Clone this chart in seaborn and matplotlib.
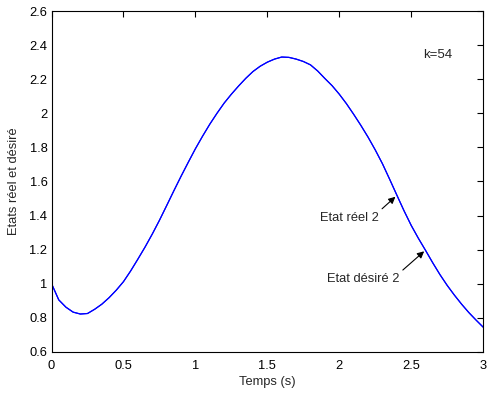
import matplotlib
matplotlib.use("Agg")
import matplotlib.pyplot as plt
import seaborn as sns
import pandas as pd

temps = [0.00, 0.05, 0.10, 0.15, 0.20, 0.25, 0.30, 0.35, 0.40, 0.45, 0.50,
         0.55, 0.60, 0.65, 0.70, 0.75, 0.80, 0.85, 0.90, 0.95, 1.00,
         1.05, 1.10, 1.15, 1.20, 1.25, 1.30, 1.35, 1.40, 1.45, 1.50,
         1.55, 1.60, 1.65, 1.70, 1.75, 1.80, 1.85, 1.90, 1.95, 2.00,
         2.05, 2.10, 2.15, 2.20, 2.25, 2.30, 2.35, 2.40, 2.45, 2.50,
         2.55, 2.60, 2.65, 2.70, 2.75, 2.80, 2.85, 2.90, 2.95, 3.00]
etat_reel = [1.000, 0.905, 0.862, 0.833, 0.822, 0.825, 0.850, 0.880, 0.918, 0.962, 1.012,
             1.075, 1.144, 1.215, 1.291, 1.372, 1.458, 1.545, 1.630, 1.712, 1.792,
             1.866, 1.936, 2.000, 2.060, 2.112, 2.160, 2.205, 2.245, 2.276, 2.300,
             2.318, 2.330, 2.328, 2.318, 2.304, 2.284, 2.248, 2.204, 2.162, 2.112,
             2.056, 1.994, 1.929, 1.860, 1.785, 1.704, 1.613, 1.520, 1.428, 1.342,
             1.266, 1.195, 1.122, 1.053, 0.990, 0.933, 0.880, 0.831, 0.787, 0.745]
etat_desire = list(etat_reel)

xticks = [0, 0.5, 1, 1.5, 2, 2.5, 3]
yticks = [0.6, 0.8, 1, 1.2, 1.4, 1.6, 1.8, 2, 2.2, 2.4, 2.6]

sns.set_style("white")
plt.rcParams['font.family'] = ['Liberation Sans', 'DejaVu Sans']

df = pd.DataFrame({"t": temps, "reel": etat_reel, "desire": etat_desire})

fig = plt.figure(figsize=(4.91, 3.94), dpi=100)
ax = fig.add_axes([0.105, 0.107, 0.879, 0.865])

sns.lineplot(data=df, x="t", y="desire", ax=ax, color=(0, 0, 1), linewidth=0.85)
sns.lineplot(data=df, x="t", y="reel", ax=ax, color=(0, 0, 1), linewidth=0.85)

ax.set_xlim(0, 3)
ax.set_ylim(0.6, 2.6)
ax.set_xticks(xticks)
ax.set_xticklabels(["0", "0.5", "1", "1.5", "2", "2.5", "3"])
ax.set_yticks(yticks)
ax.set_yticklabels(["0.6", "0.8", "1", "1.2", "1.4", "1.6", "1.8", "2", "2.2", "2.4", "2.6"])
ax.tick_params(direction="in", length=4, width=0.8, top=True, right=True,
               labelsize=9.3, colors="black")
ax.tick_params(axis="x", pad=6)
ax.tick_params(axis="y", pad=3)
for s in ax.spines.values():
    s.set_color("black")
    s.set_linewidth(0.8)

ax.set_xlabel("Temps (s)", fontsize=9.3, labelpad=3)
ax.set_ylabel("Etats réel et désiré", fontsize=9.3, labelpad=7)

ax.text(2.58, 2.34, "k=54", fontsize=9.5, va="center", ha="left")
ax.annotate("Etat réel 2", xy=(2.39, 1.51), xytext=(2.07, 1.387),
            fontsize=9.3, va="center", ha="center",
            arrowprops=dict(arrowstyle="-|>", color="black", lw=0.8,
                            shrinkA=0, shrinkB=0, mutation_scale=10,
                            relpos=(1.0, 1.0)))
ax.annotate("Etat désiré 2", xy=(2.59, 1.19), xytext=(2.167, 1.028),
            fontsize=9.3, va="center", ha="center",
            arrowprops=dict(arrowstyle="-|>", color="black", lw=0.8,
                            shrinkA=0, shrinkB=0, mutation_scale=10,
                            relpos=(1.0, 1.0)))

fig.savefig("out.png", dpi=100)
